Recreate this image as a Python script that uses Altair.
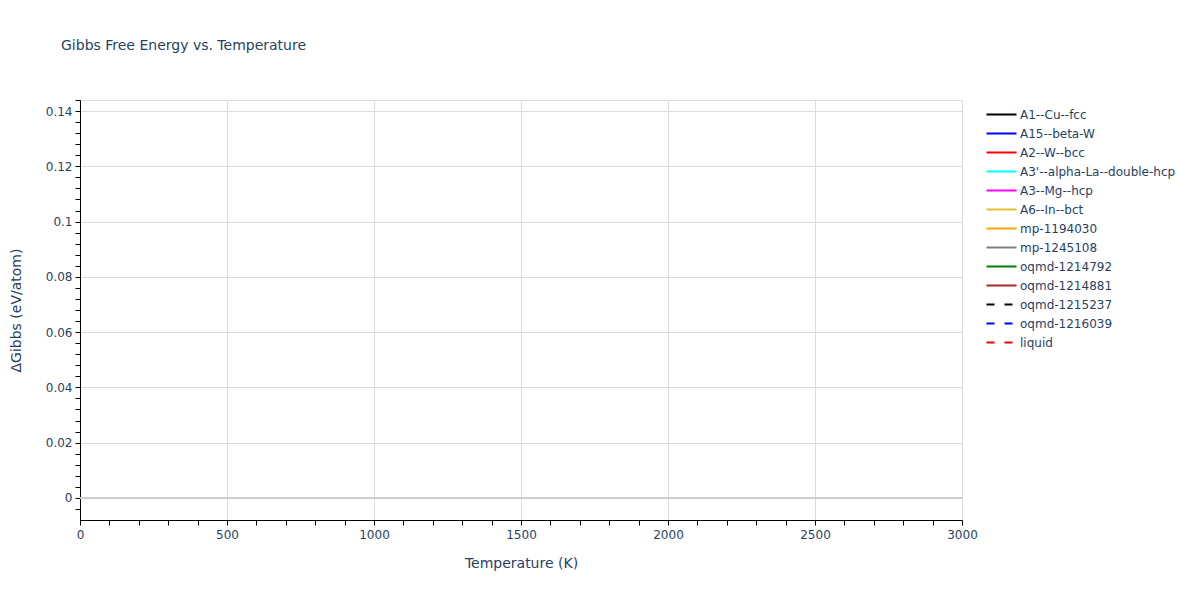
import altair as alt
import pandas as pd

# Series shown in the legend (no data points are visible in the reference plot)
series = [
    "A1--Cu--fcc", "A15--beta-W", "A2--W--bcc", "A3'--alpha-La--double-hcp",
    "A3--Mg--hcp", "A6--In--bct", "mp-1194030", "mp-1245108",
    "oqmd-1214792", "oqmd-1214881", "oqmd-1215237", "oqmd-1216039", "liquid",
]
colors = ["black", "blue", "red", "cyan", "magenta", "#e6c02f", "orange",
          "gray", "green", "brown", "black", "blue", "red"]
dashes = [[1, 0]] * 10 + [[8, 10]] * 3

# Temperature / Gibbs values: nothing is plotted in the reference
temps = [None] * len(series)
gibbs = [None] * len(series)

x_ticks = list(range(0, 3001, 100))
y_ticks = [round(-0.004 + 0.004 * i, 3) for i in range(0, 38)]

df = pd.DataFrame({"T": temps, "G": gibbs, "series": series})
zero_df = pd.DataFrame({"z": [0.0]})

font = "DejaVu Sans"
txt = "#2a3f5f"

xscale = alt.Scale(domain=[0, 3000], nice=False, zero=False)
yscale = alt.Scale(domain=[-0.008, 0.144], nice=False, zero=False)

major_y = "abs(round(datum.value*1000) % 20) === 0"

xaxis = alt.Axis(
    values=x_ticks, format="d",
    labelExpr="datum.value % 500 === 0 ? datum.label : ''",
    gridOpacity={"condition": {"test": "datum.value % 500 === 0", "value": 1}, "value": 0},
    gridColor="#dcdcdc",
    tickColor="black", domainColor="black",
    tickSize=5, labelOverlap=False,
    labelFontSize=12, labelColor=txt, labelFont=font, labelPadding=4,
    title="Temperature (K)", titleFontSize=14, titleFont=font, titleColor=txt,
    titleFontWeight="normal", titlePadding=16, labelFlush=False,
)
yaxis = alt.Axis(
    values=y_ticks,
    labelExpr=major_y + " ? format(datum.value, '') : ''",
    gridOpacity={"condition": {"test": major_y, "value": 1}, "value": 0},
    gridColor="#dcdcdc",
    tickColor="black", domainColor="black",
    tickSize=5, labelOverlap=False,
    labelFontSize=12, labelColor=txt, labelFont=font, labelPadding=3,
    title="ΔGibbs (eV/atom)", titleFontSize=14, titleFont=font, titleColor=txt,
    titleFontWeight="normal", titlePadding=22,
)

legend = alt.Legend(
    title=None, orient="none", legendX=913, legendY=6,
    symbolType="M-2,0H2", symbolSize=225, symbolStrokeWidth=2,
    labelFontSize=12, labelFont=font, labelColor=txt, rowPadding=4,
    labelLimit=300, labelOffset=10,
)

lines = alt.Chart(df).mark_line(strokeWidth=2).encode(
    x=alt.X("T:Q", scale=xscale, axis=xaxis),
    y=alt.Y("G:Q", scale=yscale, axis=yaxis),
    color=alt.Color("series:N", scale=alt.Scale(domain=series, range=colors), legend=legend),
    strokeDash=alt.StrokeDash("series:N", scale=alt.Scale(domain=series, range=dashes), legend=legend),
)

zero = alt.Chart(zero_df).mark_rule(color="#cccccc", strokeWidth=2).encode(
    y=alt.Y("z:Q", scale=yscale, axis=yaxis),
)

chart = alt.layer(zero, lines).properties(
    width=882, height=420,
    title=alt.TitleParams(
        "Gibbs Free Energy vs. Temperature", anchor="start", frame="group",
        dx=-19, offset=41, fontSize=14, font=font, color=txt, fontWeight="normal",
    ),
    autosize=alt.AutoSizeParams(type="none"),
    padding={"left": 72, "top": 92, "right": 230, "bottom": 72},
).configure_view(stroke=None).configure(background="white")

chart.save("out.html", embed_options={"renderer": "svg", "actions": False})
